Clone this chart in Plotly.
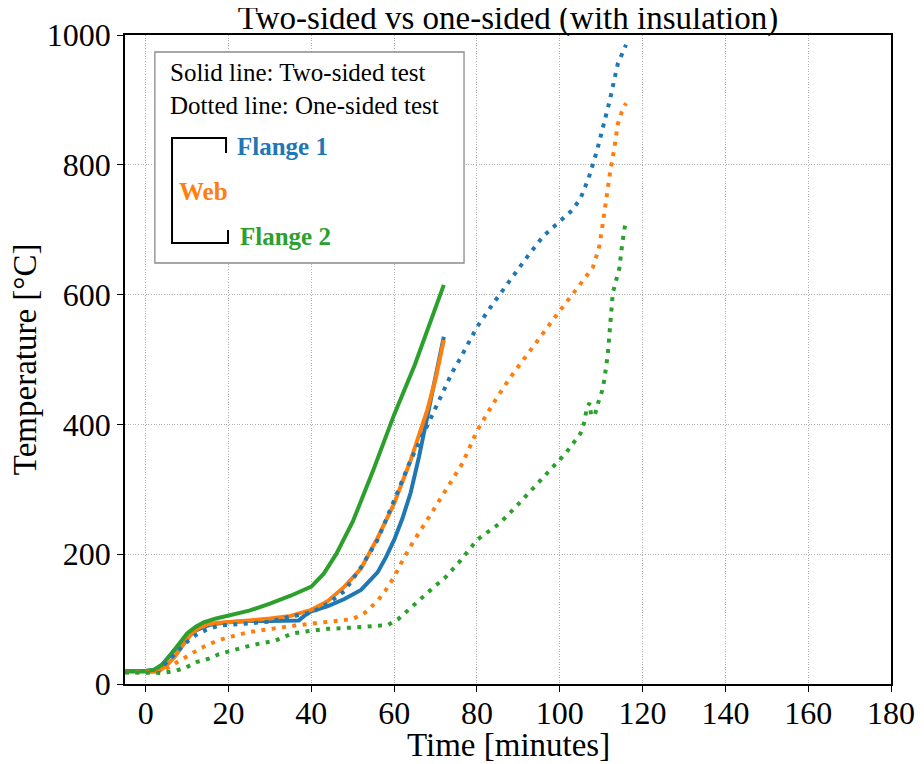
import plotly.graph_objects as go

# ---- data (minutes, °C) ----
f1_two_x = [-5, 0, 2.5, 4, 6, 8, 10, 12, 14, 16, 20, 25, 30, 37, 38.5, 40, 44, 48, 52, 56, 58, 60, 62, 64, 66, 68, 70, 72]
f1_two_y = [20, 20, 22, 30, 45, 60, 72, 82, 88, 92, 95, 97, 97, 98, 106, 112, 120, 131, 145, 172, 195, 222, 255, 295, 350, 410, 470, 535]

web_two_x = [-5, 0, 3, 5, 7, 9, 11, 13, 15, 17, 20, 25, 30, 35, 40, 44, 48, 52, 56, 60, 64, 68, 70, 72]
web_two_y = [19, 19, 19, 28, 42, 60, 77, 87, 92, 94, 96, 98, 101, 105, 114, 128, 150, 178, 225, 278, 345, 422, 470, 530]

f2_two_x = [-5, 0, 2, 4, 6, 8, 10, 12, 14, 17, 20, 25, 30, 35, 40, 43, 46, 50, 55, 60, 65, 70, 72]
f2_two_y = [20, 20, 22, 30, 45, 62, 78, 88, 95, 101, 106, 113, 124, 136, 150, 170, 200, 250, 330, 415, 492, 578, 615]

f1_one_x = [-5, 0, 3, 5.6, 8, 10, 12, 14.5, 17.7, 21, 25, 30, 35, 40, 44, 48, 52, 56, 60, 64, 68, 70, 72, 74, 76, 78, 80, 84, 88, 92, 96, 100, 103, 105, 107, 109, 110.5, 112, 114, 116]
f1_one_y = [18, 18, 20, 37, 52, 65, 75, 83, 90, 92, 93, 96, 104, 110, 124, 143, 180, 222, 283, 345, 398, 425, 455, 480, 502, 525, 550, 587, 623, 657, 690, 713, 730, 748, 780, 822, 858, 897, 955, 985]

web_one_x = [-5, 0, 4, 7, 10, 13.5, 17, 20, 25, 30, 36, 40, 45, 50, 53, 56, 58, 60, 62, 64.4, 68.5, 72.5, 76.5, 80, 84, 88, 92, 96, 100, 104, 106, 108, 109, 109.6, 110.4, 111.2, 112.2, 113.2, 114, 115, 116]
web_one_y = [18, 18, 20, 31, 43, 56, 66, 72, 80, 85, 90, 93, 96, 100, 110, 128, 145, 165, 190, 217, 258, 299, 340, 390, 433, 472, 507, 541, 575, 608, 626, 642, 662, 676, 710, 751, 790, 826, 862, 882, 895]

f2_one_x = [-5, 0, 4, 7, 9.6, 12.4, 15.3, 17.7, 21, 25.7, 31.4, 35.4, 40, 44, 50, 55, 58.5, 61, 63, 66, 69, 72.5, 76, 80, 85.4, 89.4, 93.4, 97.5, 101.5, 105, 106, 106.5, 107.2, 107.6, 108.5, 109.3, 110.2, 110.8, 111.2, 111.6, 112.8, 114.4, 115.1, 116]
f2_one_y = [18, 18, 17, 20, 25, 34, 39, 46, 52, 60, 67, 78, 82, 85, 87, 89, 91, 100, 112, 129, 146, 165, 190, 222, 247, 273, 301, 328, 356, 386, 405, 425, 433, 413, 415, 434, 451, 470, 489, 508, 602, 641, 679, 716]

x_ticks = [0, 20, 40, 60, 80, 100, 120, 140, 160, 180]
y_ticks = [0, 200, 400, 600, 800, 1000]

BLUE, ORANGE, GREEN = "#1f77b4", "#ff7f0e", "#2ca02c"
FONT = "Liberation Serif, Times New Roman, serif"
DOT = "4px,6.4px"

fig = go.Figure()
for xs, ys, c in [(f1_two_x, f1_two_y, BLUE), (web_two_x, web_two_y, ORANGE), (f2_two_x, f2_two_y, GREEN)]:
    fig.add_trace(go.Scatter(x=xs, y=ys, mode="lines", line=dict(color=c, width=4), showlegend=False))
for xs, ys, c in [(f1_one_x, f1_one_y, BLUE), (web_one_x, web_one_y, ORANGE), (f2_one_x, f2_one_y, GREEN)]:
    fig.add_trace(go.Scatter(x=xs, y=ys, mode="lines", line=dict(color=c, width=4, dash=DOT), showlegend=False))

axis_common = dict(
    showline=True, linecolor="black", linewidth=1.5, mirror=True,
    ticks="outside", ticklen=6, tickwidth=1.3, tickcolor="black",
    showgrid=True, gridcolor="#b0b0b0", gridwidth=1, griddash="1px,1.6px",
    zeroline=False, tickfont=dict(family=FONT, size=32, color="black"),
)
fig.update_xaxes(range=[-5, 180], tickvals=x_ticks, ticktext=[str(t) for t in x_ticks],
                 ticklabelstandoff=-6, **axis_common)
fig.update_yaxes(range=[0, 1000], tickvals=y_ticks, ticktext=[str(t) for t in y_ticks], **axis_common)

# legend-like box
shapes = [
    dict(type="rect", xref="paper", yref="paper", x0=0.039, x1=0.4426, y0=0.6487, y1=0.9738,
         line=dict(color="#8a8a8a", width=1.3), fillcolor="white", layer="above"),
    dict(type="path", xref="paper", yref="paper",
         path="M 0.1319 0.8182 L 0.1319 0.8413 L 0.0614 0.8413 L 0.0614 0.6795 L 0.1345 0.6795 L 0.1345 0.6995",
         line=dict(color="black", width=2), layer="above"),
]
annotations = [
    dict(text="Solid line: Two-sided test", x=0.0561, y=0.9415, xref="paper", yref="paper",
         xanchor="left", yanchor="middle", showarrow=False, font=dict(family=FONT, size=25, color="black")),
    dict(text="Dotted line: One-sided test", x=0.0561, y=0.892, xref="paper", yref="paper",
         xanchor="left", yanchor="middle", showarrow=False, font=dict(family=FONT, size=25, color="black")),
    dict(text="<b>Flange 1</b>", x=0.1436, y=0.8279, xref="paper", yref="paper",
         xanchor="left", yanchor="middle", showarrow=False, font=dict(family=FONT, size=25, color=BLUE)),
    dict(text="<b>Web</b>", x=0.0675, y=0.7585, xref="paper", yref="paper",
         xanchor="left", yanchor="middle", showarrow=False, font=dict(family=FONT, size=25, color=ORANGE)),
    dict(text="<b>Flange 2</b>", x=0.1471, y=0.6892, xref="paper", yref="paper",
         xanchor="left", yanchor="middle", showarrow=False, font=dict(family=FONT, size=25, color=GREEN)),
    dict(text="Time [minutes]", x=0.5, y=-0.094, xref="paper", yref="paper",
         xanchor="center", yanchor="middle", showarrow=False, font=dict(family=FONT, size=33, color="black")),
    dict(text="Temperature [°C]", x=-0.131, y=0.5, xref="paper", yref="paper", textangle=-90,
         xanchor="center", yanchor="middle", showarrow=False, font=dict(family=FONT, size=33, color="black")),
]

# page body has an 8px margin, so the figure is 8px smaller and margins shifted
fig.update_layout(
    width=916, height=756,
    margin=dict(l=117, r=33, t=27, b=80, autoexpand=False),
    paper_bgcolor="white", plot_bgcolor="white",
    title=dict(text="Two-sided vs one-sided (with insulation)", x=(508 - 8) / 916, xanchor="center",
               y=1 - 9 / 756, yref="container", yanchor="middle",
               font=dict(family=FONT, size=33, color="black")),
    shapes=shapes, annotations=annotations,
)

fig.write_html("out.html")
